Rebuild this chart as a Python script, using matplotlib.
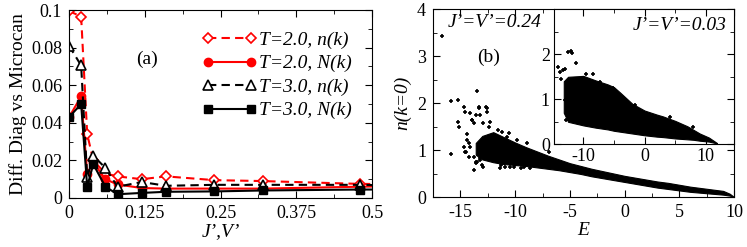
import matplotlib
matplotlib.use('Agg')
import matplotlib.pyplot as plt
from matplotlib.ticker import MultipleLocator

plt.rcParams['font.family'] = ['Liberation Serif', 'DejaVu Serif']
plt.rcParams['axes.unicode_minus'] = False

# panel (a): difference diag vs microcanonical
jv = [0, 0.02, 0.03, 0.04, 0.06, 0.08, 0.12, 0.16, 0.24, 0.32, 0.48, 0.64]
t2_nk = [0.0995, 0.0965, 0.034, 0.020, 0.013, 0.0115, 0.010, 0.0115, 0.0095, 0.009, 0.0075, 0.0072]
t2_Nk = [0.043, 0.054, 0.013, 0.019, 0.010, 0.0072, 0.0053, 0.005, 0.005, 0.005, 0.006, 0.0068]
t3_nk = [0.081, 0.0705, 0.011, 0.0225, 0.016, 0.006, 0.0085, 0.0065, 0.007, 0.007, 0.007, 0.006]
t3_Nk = [0.043, 0.050, 0.006, 0.018, 0.006, 0.002, 0.0027, 0.0033, 0.0035, 0.004, 0.0045, 0.0045]

# panel (b): n(k=0) vs E, J'=V'=0.24 -- dense band + scattered points
band_E = [-13.6, -13, -12, -11, -10, -9, -8, -7, -6, -5, -4, -3, -2, -1, 0,
          1, 2, 3, 4, 5, 6, 7, 8, 9, 9.6, 10]
band_hi = [1.15, 1.3, 1.38, 1.27, 1.16, 1.06, 0.97, 0.88, 0.8, 0.72, 0.66, 0.6, 0.55, 0.5, 0.45,
           0.41, 0.37, 0.33, 0.3, 0.26, 0.22, 0.19, 0.16, 0.13, 0.07, 0.0]
band_lo = [0.9, 0.8, 0.74, 0.7, 0.68, 0.66, 0.63, 0.6, 0.57, 0.53, 0.49, 0.44, 0.4, 0.36, 0.32,
           0.28, 0.24, 0.2, 0.17, 0.14, 0.11, 0.09, 0.07, 0.05, 0.03, 0.0]
out_E = [-16.7, -13.5, -15.9, -15.25, -15.9, -14.7, -14.55, -15.25, -15.16, -14.45, -13.78,
         -13.3, -12.56, -12.6, -13.6, -13.9, -14.4, -14.1, -13.6, -13.2, -11.2, -11.34, -10.43,
         -12.7, -13.3, -14.2, -13.0, -13.5, -12.26, -10.6, -8.9, -8.6, -6.9, -9.5, -14.55,
         -14.1, -13.93, -13.8, -13.2, -12.9, -12.4, -11.6, -11.2, -10.7, -9.8, -13.8, -13.2,
         -13.6, -12.9, -11.3, -10.9, -9.2, -8.6, -10.1, -14.4, -14.2, -14.7]
out_n = [3.43, 2.26, 2.05, 2.06, 0.91, 1.92, 1.81, 1.6, 1.5, 0.96, 0.57,
         1.89, 1.89, 1.8, 1.74, 1.64, 1.21, 1.07, 0.72, 0.79, 0.72, 0.61, 0.64,
         1.92, 1.92, 0.86, 0.68, 0.75, 1.6, 1.36, 1.14, 0.79, 0.96, 0.61, 0.96,
         1.78, 1.64, 1.57, 1.74, 1.57, 1.5, 1.43, 1.39, 1.28, 1.21, 0.86, 0.82,
         0.75, 0.64, 0.68, 0.64, 0.64, 0.61, 0.63, 1.35, 1.14, 1.07]

# inset: J'=V'=0.03
in_E = [-13.2, -12.5, -10, -8, -6, -5, -4, -2, 0, 2, 3, 5, 7, 8, 9, 10.5, 11.8]
in_hi = [1.4, 1.5, 1.52, 1.42, 1.33, 1.27, 1.15, 0.9, 0.75, 0.66, 0.62, 0.52, 0.4, 0.32, 0.24, 0.15, 0.03]
in_lo = [0.7, 0.5, 0.42, 0.37, 0.33, 0.3, 0.28, 0.24, 0.2, 0.17, 0.16, 0.13, 0.11, 0.1, 0.08, 0.06, 0.02]
in_out_E = [-12.1, -11.8, -11.2, -14.1, -13.8, -13.4, -13.0, -13.7, -13.0, -12.7, -12.9,
            -9.5, -8.4, -7.3, -5.1, -2.7, -1.6, 4.1, 7.9, -12.5]
in_out_n = [2.08, 2.02, 1.8, 1.72, 1.6, 1.66, 1.68, 1.46, 0.98, 0.8, 0.54,
            1.57, 1.57, 1.38, 1.24, 0.91, 0.87, 0.61, 0.39, 2.05]


def style(ax, fs=13):
    ax.tick_params(which='both', direction='in', top=True, right=True, labelsize=fs, pad=5)
    ax.tick_params(which='major', length=5)
    ax.tick_params(which='minor', length=3)


fig = plt.figure(figsize=(7.47, 2.47), dpi=100)

ax = fig.add_axes([0.0924, 0.1984, 0.4056, 0.761])
ax.plot(jv, t2_nk, '--', color='red', marker='D', ms=5, mfc='white', mec='red', mew=1.2,
        lw=1.5, dashes=(4, 2.5), label='T=2.0, n(k)')
ax.plot(jv, t2_Nk, '-', color='red', marker='o', ms=6, lw=1.5, label='T=2.0, N(k)')
ax.plot(jv, t3_nk, '--', color='black', marker='^', ms=7, mfc='white', mec='black', mew=1.2,
        lw=1.5, dashes=(4, 2.5), label='T=3.0, n(k)')
ax.plot(jv, t3_Nk, '-', color='black', marker='s', ms=6, lw=1.5, label='T=3.0, N(k)')
ax.set_xlim(0, 0.5)
ax.set_ylim(0, 0.1)
ax.set_xticks([0, 0.125, 0.25, 0.375, 0.5])
ax.set_xticklabels(['0', '0.125', '0.25', '0.375', '0.5'])
ax.set_yticks([0, 0.02, 0.04, 0.06, 0.08, 0.1])
ax.set_yticklabels(['0', '0.02', '0.04', '0.06', '0.08', '0.1'])
ax.xaxis.set_minor_locator(MultipleLocator(0.0625))
ax.yaxis.set_minor_locator(MultipleLocator(0.01))
style(ax)
ax.set_xlabel("J’,V’", fontsize=14, style='italic', labelpad=1)
ax.set_ylabel('Diff. Diag vs Microcan', fontsize=14, labelpad=3)
ax.text(0.129, 0.074, '(a)', fontsize=14, ha='center', va='center')
ax.legend(loc='upper right', frameon=False, numpoints=2, handlelength=2.8, handletextpad=0.1,
          labelspacing=0.3, borderaxespad=0.5, bbox_to_anchor=(0.99, 0.98),
          prop={'family': 'Liberation Serif', 'style': 'italic', 'size': 14})

bx = fig.add_axes([0.5797, 0.2024, 0.403, 0.761])
bx.fill_between(band_E, band_lo, band_hi, color='black', lw=0.8, edgecolor='black')
bx.plot(out_E, out_n, 'k+', ms=3.5, mew=1.2, ls='none')
bx.set_xlim(-17.5, 10)
bx.set_ylim(0, 4)
bx.xaxis.set_major_locator(MultipleLocator(5))
bx.xaxis.set_minor_locator(MultipleLocator(2.5))
bx.yaxis.set_major_locator(MultipleLocator(1))
bx.yaxis.set_minor_locator(MultipleLocator(0.5))
style(bx)
bx.set_xlabel('E', fontsize=14, style='italic', labelpad=1)
bx.set_ylabel('n(k=0)', fontsize=14, style='italic', labelpad=4)
bx.text(0.05, 0.93, "J’=V’=0.24", transform=bx.transAxes, fontsize=14, style='italic',
        ha='left', va='center')
bx.text(0.185, 0.745, '(b)', transform=bx.transAxes, fontsize=14, ha='center', va='center')

ix = fig.add_axes([0.7416, 0.4158, 0.241, 0.5466])
ix.fill_between(in_E, in_lo, in_hi, color='black', lw=0.8, edgecolor='black')
ix.plot(in_out_E, in_out_n, 'k+', ms=3.5, mew=1.2, ls='none')
ix.set_xlim(-14.8, 14.6)
ix.set_ylim(0, 3)
ix.xaxis.set_major_locator(MultipleLocator(10))
ix.xaxis.set_minor_locator(MultipleLocator(5))
ix.set_yticks([0, 1, 2])
ix.yaxis.set_minor_locator(MultipleLocator(0.5))
style(ix, fs=13)
ix.tick_params(axis='y', pad=3)
ix.tick_params(axis='x', pad=3)
ix.text(0.96, 0.88, "J’=V’=0.03", transform=ix.transAxes, fontsize=14, style='italic',
        ha='right', va='center')

fig.savefig('out.png', dpi=100)
